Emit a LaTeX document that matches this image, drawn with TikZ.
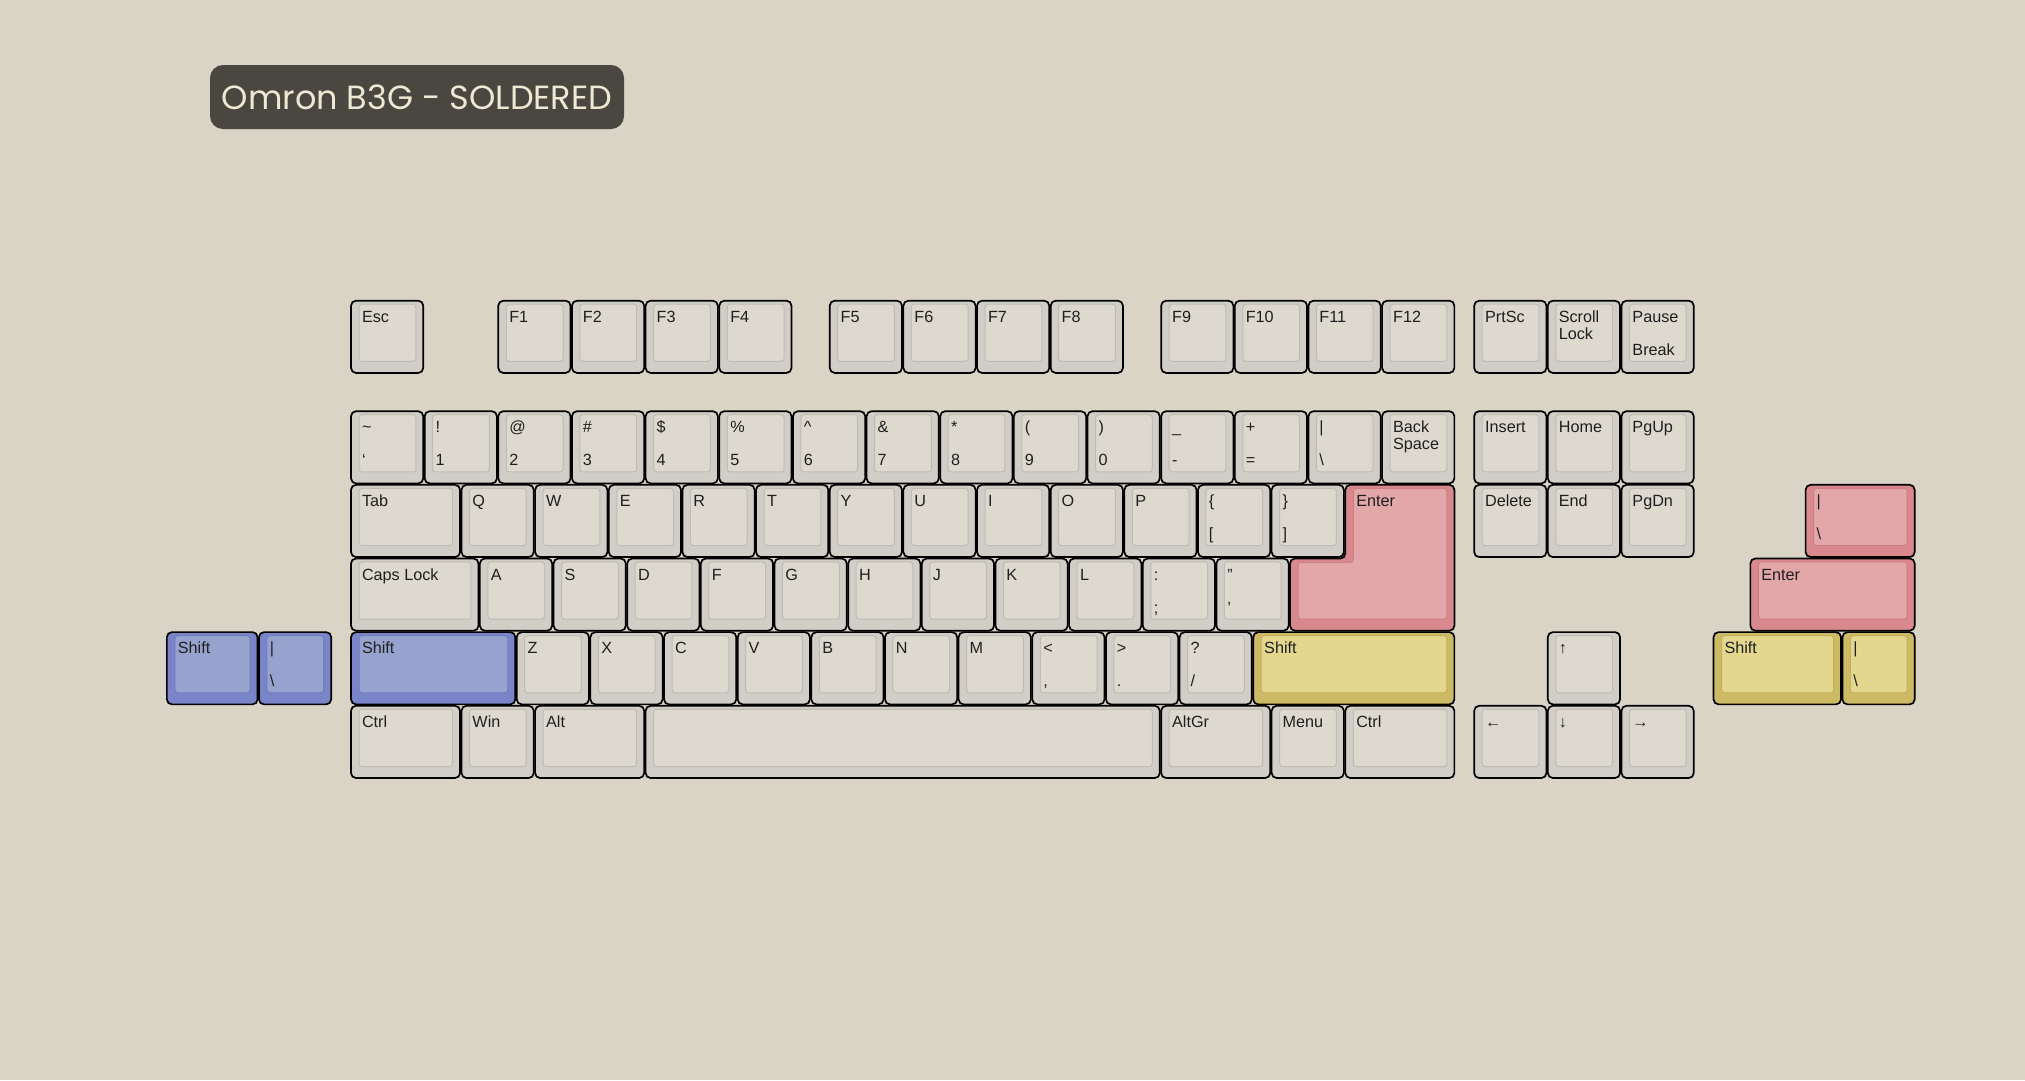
\documentclass[tikz,border=0pt]{standalone}
\usepackage{fontspec}
\setmainfont{Liberation Sans}
\newfontfamily\titlefont{Poppins}
\definecolor{paper}{RGB}{217,212,197}
\definecolor{kgout}{RGB}{208,206,198}
\definecolor{kgin}{RGB}{221,217,206}
\definecolor{kgline}{RGB}{190,188,180}
\definecolor{kpout}{RGB}{217,136,141}
\definecolor{kpin}{RGB}{227,166,169}
\definecolor{kpline}{RGB}{205,128,132}
\definecolor{kyout}{RGB}{205,186,100}
\definecolor{kyin}{RGB}{227,215,142}
\definecolor{kyline}{RGB}{195,176,95}
\definecolor{kbout}{RGB}{122,132,200}
\definecolor{kbin}{RGB}{151,163,206}
\definecolor{kbline}{RGB}{115,125,190}
\definecolor{titlebg}{RGB}{74,70,64}
\definecolor{titletext}{RGB}{238,233,212}
\tikzset{
  keyout/.style={draw=black, line width=1.7pt, rounded corners=5pt, fill=#1out, inner sep=0pt, outer sep=0pt},
  keyin/.style={draw=#1line, fill=#1in, line width=1pt, rounded corners=3pt},
  leg/.style={inner sep=0pt, outer sep=0pt, anchor=base west, font=\fontsize{16.2}{16.7}\selectfont, text=black!88},
}
\newcommand\kk[7]{%
  \pgfmathsetmacro\kx{351+#2*73.65}%
  \pgfmathsetmacro\ky{300.7+#3*73.65}%
  \pgfmathsetmacro\kw{#4*73.65-1.4}%
  \node[keyout=#5, minimum width=\kw pt, minimum height=72.25pt, anchor=north west] (#1) at (\kx,\ky) {};
  \draw[keyin=#5] ([xshift=8pt,yshift=-3.5pt]#1.north west) rectangle ([xshift=-7.5pt,yshift=11.5pt]#1.south east);
  \node[leg] (#1t) at ([xshift=11pt,yshift=-21.6pt]#1.north west) {#6};
  \node[leg] (#1b) at ([xshift=11pt,yshift=-54.7pt]#1.north west) {#7};
}
\newcommand\kmid[2]{\node[leg] (#1m) at ([xshift=11pt,yshift=-38.3pt]#1.north west) {#2};}
\begin{document}
\begin{tikzpicture}[x=1pt,y=-1pt]
\useasboundingbox (0,0) rectangle (2025,1080);
\fill[paper] (0,0) rectangle (2025,1080);
% title
\node[fill=titlebg, rounded corners=13pt, minimum width=414pt, minimum height=64pt, inner sep=0pt,
      text=titletext, font=\titlefont\fontsize{33.5}{33.5}\selectfont] (title) at (417,97) {Omron B3G - SOLDERED};
% row 0
\kk{esc}{0}{0}{1}{kg}{Esc}{}
\kk{fa}{2}{0}{1}{kg}{F1}{}
\kk{fb}{3}{0}{1}{kg}{F2}{}
\kk{fc}{4}{0}{1}{kg}{F3}{}
\kk{fd}{5}{0}{1}{kg}{F4}{}
\kk{fe}{6.5}{0}{1}{kg}{F5}{}
\kk{ff}{7.5}{0}{1}{kg}{F6}{}
\kk{fg}{8.5}{0}{1}{kg}{F7}{}
\kk{fh}{9.5}{0}{1}{kg}{F8}{}
\kk{fi}{11}{0}{1}{kg}{F9}{}
\kk{fj}{12}{0}{1}{kg}{F10}{}
\kk{fk}{13}{0}{1}{kg}{F11}{}
\kk{fl}{14}{0}{1}{kg}{F12}{}
\kk{prt}{15.25}{0}{1}{kg}{PrtSc}{}
\kk{scr}{16.25}{0}{1}{kg}{Scroll}{}
\kmid{scr}{Lock}
\kk{pau}{17.25}{0}{1}{kg}{Pause}{Break}
% row 1
\kk{grv}{0}{1.5}{1}{kg}{\symbol{126}}{\symbol{96}}
\kk{na}{1}{1.5}{1}{kg}{!}{1}
\kk{nb}{2}{1.5}{1}{kg}{@}{2}
\kk{nc}{3}{1.5}{1}{kg}{\#}{3}
\kk{nd}{4}{1.5}{1}{kg}{\$}{4}
\kk{ne}{5}{1.5}{1}{kg}{\%}{5}
\kk{nf}{6}{1.5}{1}{kg}{\symbol{94}}{6}
\kk{ng}{7}{1.5}{1}{kg}{\&}{7}
\kk{nh}{8}{1.5}{1}{kg}{*}{8}
\kk{ni}{9}{1.5}{1}{kg}{(}{9}
\kk{nj}{10}{1.5}{1}{kg}{)}{0}
\kk{mns}{11}{1.5}{1}{kg}{\symbol{95}}{-}
\kk{eql}{12}{1.5}{1}{kg}{+}{=}
\kk{bsl}{13}{1.5}{1}{kg}{|}{\symbol{92}}
\kk{bsp}{14}{1.5}{1}{kg}{Back}{}
\kmid{bsp}{Space}
\kk{ins}{15.25}{1.5}{1}{kg}{Insert}{}
\kk{hom}{16.25}{1.5}{1}{kg}{Home}{}
\kk{pgu}{17.25}{1.5}{1}{kg}{PgUp}{}
% row 2
\kk{tab}{0}{2.5}{1.5}{kg}{Tab}{}
\kk{q}{1.5}{2.5}{1}{kg}{Q}{}
\kk{w}{2.5}{2.5}{1}{kg}{W}{}
\kk{e}{3.5}{2.5}{1}{kg}{E}{}
\kk{r}{4.5}{2.5}{1}{kg}{R}{}
\kk{t}{5.5}{2.5}{1}{kg}{T}{}
\kk{y}{6.5}{2.5}{1}{kg}{Y}{}
\kk{u}{7.5}{2.5}{1}{kg}{U}{}
\kk{i}{8.5}{2.5}{1}{kg}{I}{}
\kk{o}{9.5}{2.5}{1}{kg}{O}{}
\kk{p}{10.5}{2.5}{1}{kg}{P}{}
\kk{lbr}{11.5}{2.5}{1}{kg}{\{}{[}
\kk{rbr}{12.5}{2.5}{1}{kg}{\}}{]}
\kk{del}{15.25}{2.5}{1}{kg}{Delete}{}
\kk{end}{16.25}{2.5}{1}{kg}{End}{}
\kk{pgd}{17.25}{2.5}{1}{kg}{PgDn}{}
\kk{xbsl}{19.75}{2.5}{1.5}{kp}{|}{\symbol{92}}
% big-ass enter
\draw[keyout=kp] (1345.3,484.8) -- (1454.4,484.8) -- (1454.4,630.7) -- (1290,630.7) -- (1290,558.5) -- (1345.3,558.5) -- cycle;
\draw[keyin=kp] (1353.3,488.3) -- (1446.9,488.3) -- (1446.9,619.2) -- (1298,619.2) -- (1298,562.3) -- (1353.3,562.3) -- cycle;
\coordinate (ent) at (1345.3,484.8);
\node[leg] (entt) at ([xshift=11pt,yshift=-21.6pt]ent) {Enter};
% row 3
\kk{caps}{0}{3.5}{1.75}{kg}{Caps Lock}{}
\kk{a}{1.75}{3.5}{1}{kg}{A}{}
\kk{s}{2.75}{3.5}{1}{kg}{S}{}
\kk{d}{3.75}{3.5}{1}{kg}{D}{}
\kk{f}{4.75}{3.5}{1}{kg}{F}{}
\kk{g}{5.75}{3.5}{1}{kg}{G}{}
\kk{h}{6.75}{3.5}{1}{kg}{H}{}
\kk{j}{7.75}{3.5}{1}{kg}{J}{}
\kk{k}{8.75}{3.5}{1}{kg}{K}{}
\kk{l}{9.75}{3.5}{1}{kg}{L}{}
\kk{scl}{10.75}{3.5}{1}{kg}{:}{;}
\kk{quo}{11.75}{3.5}{1}{kg}{"}{\symbol{39}}
\kk{xent}{19}{3.5}{2.25}{kp}{Enter}{}
% row 4
\kk{xlsa}{-2.5}{4.5}{1.25}{kb}{Shift}{}
\kk{xlsb}{-1.25}{4.5}{1}{kb}{|}{\symbol{92}}
\kk{lsh}{0}{4.5}{2.25}{kb}{Shift}{}
\kk{z}{2.25}{4.5}{1}{kg}{Z}{}
\kk{x}{3.25}{4.5}{1}{kg}{X}{}
\kk{c}{4.25}{4.5}{1}{kg}{C}{}
\kk{v}{5.25}{4.5}{1}{kg}{V}{}
\kk{b}{6.25}{4.5}{1}{kg}{B}{}
\kk{n}{7.25}{4.5}{1}{kg}{N}{}
\kk{m}{8.25}{4.5}{1}{kg}{M}{}
\kk{cma}{9.25}{4.5}{1}{kg}{<}{,}
\kk{prd}{10.25}{4.5}{1}{kg}{>}{.}
\kk{slh}{11.25}{4.5}{1}{kg}{?}{/}
\kk{rsh}{12.25}{4.5}{2.75}{ky}{Shift}{}
\kk{up}{16.25}{4.5}{1}{kg}{↑}{}
\kk{xrsa}{18.5}{4.5}{1.75}{ky}{Shift}{}
\kk{xrsb}{20.25}{4.5}{1}{ky}{|}{\symbol{92}}
% row 5
\kk{lct}{0}{5.5}{1.5}{kg}{Ctrl}{}
\kk{win}{1.5}{5.5}{1}{kg}{Win}{}
\kk{alt}{2.5}{5.5}{1.5}{kg}{Alt}{}
\kk{spc}{4}{5.5}{7}{kg}{}{}
\kk{agr}{11}{5.5}{1.5}{kg}{AltGr}{}
\kk{mnu}{12.5}{5.5}{1}{kg}{Menu}{}
\kk{rct}{13.5}{5.5}{1.5}{kg}{Ctrl}{}
\kk{lft}{15.25}{5.5}{1}{kg}{←}{}
\kk{dwn}{16.25}{5.5}{1}{kg}{↓}{}
\kk{rgt}{17.25}{5.5}{1}{kg}{→}{}
\end{tikzpicture}
\end{document}
